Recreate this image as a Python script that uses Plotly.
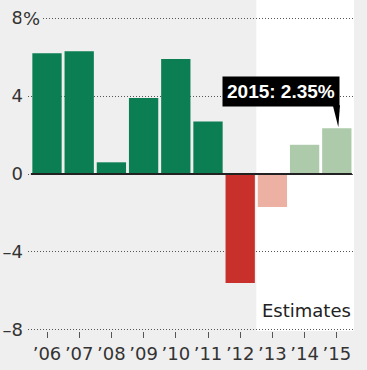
import plotly.graph_objects as go

years = ["2006", "2007", "2008", "2009", "2010", "2011", "2012", "2013", "2014", "2015"]
tick_labels = ["\u201906", "\u201907", "\u201908", "\u201909", "\u201910", "\u201911", "\u201912", "\u201913", "\u201914", "\u201915"]
growth = [6.2, 6.3, 0.6, 3.9, 5.9, 2.7, -5.6, -1.7, 1.5, 2.35]
is_estimate = [False, False, False, False, False, False, False, True, True, True]
y_ticks = [-8, -4, 0, 4, 8]
y_tick_text = ["\u20138", "\u20134", "0", "4", "8"]

GREEN, RED = "#0b7f53", "#c8302b"
LGREEN, LRED = "#adcbab", "#ecb1a2"
BG = "#efefef"
FONT = "DejaVu Sans"

colors = []
for v, est in zip(growth, is_estimate):
    if est:
        colors.append(LGREEN if v >= 0 else LRED)
    else:
        colors.append(GREEN if v >= 0 else RED)

xs = list(range(len(years)))
first_est = is_estimate.index(True)
last = len(years) - 1

fig = go.Figure(go.Bar(x=xs, y=growth, marker=dict(color=colors, line=dict(width=0)),
                       hoverinfo="skip"))

# callout box + tail pointing at the last bar
fig.add_annotation(x=last, y=growth[last], xref="x", yref="y",
                   text=f"<b>{years[last]}: {growth[last]:.2f}%</b>",
                   showarrow=False, xanchor="right", yanchor="bottom",
                   xshift=3, yshift=21, bgcolor="#000000", borderpad=4,
                   font=dict(family="Liberation Sans", size=19, color="#ffffff"))
fig.add_shape(type="path", xref="x", yref="y", xsizemode="pixel", ysizemode="pixel",
              xanchor=last, yanchor=growth[last],
              path="M -4 23 L 3.2 23 L 1.5 1 Z", fillcolor="#000000", line=dict(width=0))

# white "Estimates" panel
fig.add_shape(type="rect", xref="x", yref="paper", x0=first_est - 0.5, x1=9.6,
              y0=0, y1=1.07, fillcolor="#ffffff", line=dict(width=0), layer="below")
# zero baseline
fig.add_shape(type="line", xref="x", yref="y", x0=-0.5, x1=9.47, y0=0, y1=0,
              line=dict(color="#222222", width=2))

fig.add_annotation(x=1, y=-7, xref="paper", yref="y", text="Estimates", showarrow=False,
                   xanchor="right", yanchor="middle", xshift=-1,
                   font=dict(family=FONT, size=18, color="#222222"))
fig.add_annotation(x=0, y=max(y_ticks), xref="paper", yref="y", text="%", showarrow=False,
                   xanchor="left", yanchor="middle", xshift=-7, bgcolor=BG, borderpad=1,
                   font=dict(family=FONT, size=18, color="#333333"))

fig.update_layout(
    width=367, height=370,
    margin=dict(l=28, r=13, t=17, b=39, autoexpand=False),
    paper_bgcolor=BG, plot_bgcolor="rgba(0,0,0,0)",
    showlegend=False, bargap=0.09,
    font=dict(family=FONT, size=18, color="#333333"),
)
fig.update_xaxes(range=[-0.59, 9.534], tickvals=xs, ticktext=tick_labels,
                 showgrid=False, zeroline=False, showline=False, automargin=False,
                 ticks="outside", ticklen=6, tickwidth=1, tickcolor="#555555",
                 tickfont=dict(family=FONT, size=18, color="#333333"), fixedrange=True)
fig.update_yaxes(range=[-8.06, 8.06], tickvals=y_ticks, ticktext=y_tick_text,
                 showgrid=True, gridcolor="#555555", gridwidth=1, griddash="1px,2px",
                 zeroline=False, showline=False, ticks="", automargin=False,
                 ticklabelstandoff=4,
                 tickfont=dict(family=FONT, size=18, color="#333333"), fixedrange=True)

fig.write_html("out.html", config={"displayModeBar": False},
               post_script="document.body.style.margin='0';document.body.style.overflow='hidden';document.body.style.background='#efefef';")
